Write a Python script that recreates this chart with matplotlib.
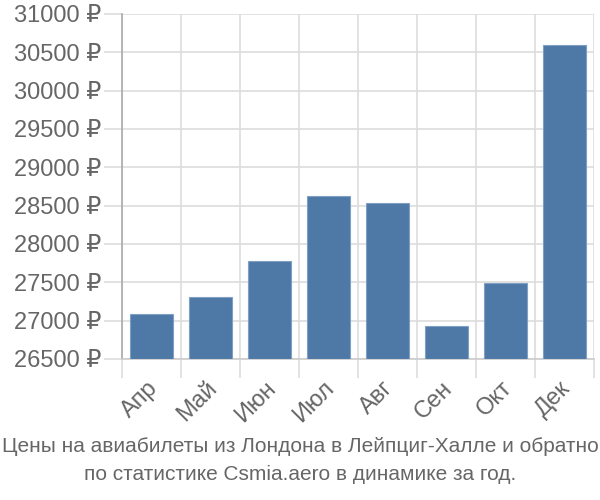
import numpy as np
import matplotlib.pyplot as plt
import matplotlib.transforms as mtransforms

# Chart data
months = ["Апр", "Май", "Июн", "Июл", "Авг", "Сен", "Окт", "Дек"]
prices = [27090, 27310, 27780, 28620, 28530, 26930, 27490, 30600]
y_ticks = [26500, 27000, 27500, 28000, 28500, 29000, 29500, 30000, 30500, 31000]
title_lines = ["Цены на авиабилеты из Лондона в Лейпциг-Халле и обратно",
               "по статистике Csmia.aero в динамике за год."]

BAR_COLOR = "#4e79a7"
TEXT_COLOR = "#666666"
GRID_COLOR = "#dddddd"

plt.rcParams['font.family'] = ['Liberation Sans', 'DejaVu Sans']

fig = plt.figure(figsize=(6, 5), dpi=100)
ax = fig.add_axes([122 / 600, 1 - 359 / 500, (594 - 122) / 600, (359 - 14) / 500])

x = np.arange(len(months))
base = y_ticks[0]
ax.bar(x, np.array(prices) - base, bottom=base, width=0.72,
       color=BAR_COLOR, edgecolor="#7f9fc4", linewidth=0.8, zorder=3)

ax.set_xlim(-0.5, len(months) - 0.5)
ax.set_ylim(y_ticks[0], y_ticks[-1])

# y axis
ax.set_yticks(y_ticks)
ax.set_yticklabels([f"{v} ₽" for v in y_ticks])
ax.tick_params(axis='y', length=13, color=GRID_COLOR, width=1.2, labelsize=17,
               labelcolor=TEXT_COLOR, pad=2)
ax.grid(axis='y', color=GRID_COLOR, linewidth=1.2, zorder=0)

# x axis: labels at centers, grid at category boundaries
ax.set_xticks(x)
ax.set_xticklabels(months, rotation=45, ha='right', rotation_mode='anchor')
ax.tick_params(axis='x', which='major', length=0, labelsize=17,
               labelcolor=TEXT_COLOR, pad=13)
shift = mtransforms.ScaledTranslation(-5 / 100, 0, fig.dpi_scale_trans)
for lbl in ax.get_xticklabels():
    lbl.set_transform(lbl.get_transform() + shift)
ax.set_xticks(np.arange(len(months) + 1) - 0.5, minor=True)
ax.tick_params(axis='x', which='minor', length=14, color=GRID_COLOR, width=1.2)
ax.grid(axis='x', which='minor', color=GRID_COLOR, linewidth=1.2, zorder=0)

for side in ['top', 'right']:
    ax.spines[side].set_visible(False)
ax.spines['bottom'].set_color("#cccccc")
ax.spines['bottom'].set_linewidth(1.2)
ax.spines['left'].set_color("#aaaaaa")
ax.spines['left'].set_linewidth(1.2)
ax.spines['left'].set_bounds(y_ticks[0], y_ticks[-1])

fig.text(0.5, 1 - 447 / 500, title_lines[0], ha='center', va='center',
         fontsize=15, color=TEXT_COLOR)
fig.text(0.5, 1 - 475 / 500, title_lines[1], ha='center', va='center',
         fontsize=15, color=TEXT_COLOR)

fig.savefig("out.png", dpi=100)
